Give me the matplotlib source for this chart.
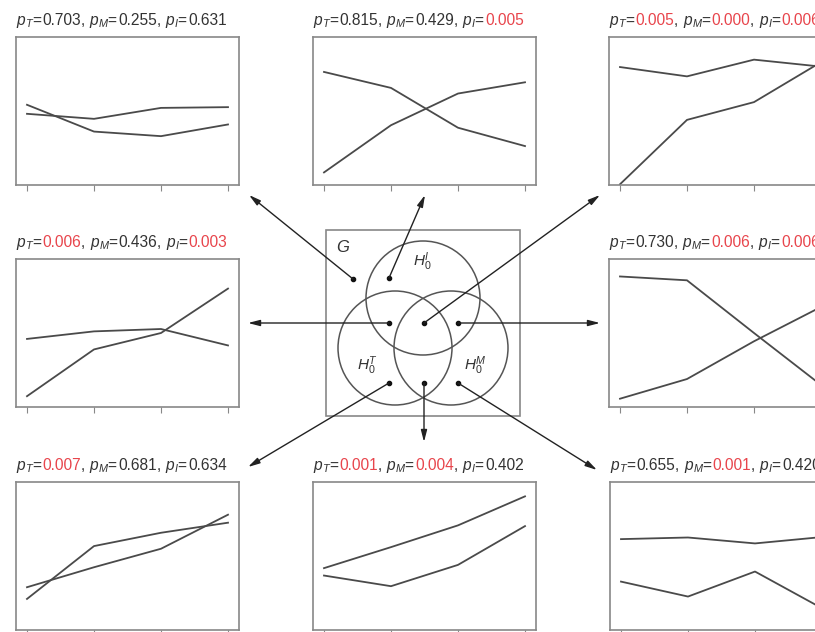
import matplotlib
matplotlib.use("Agg")
import matplotlib.pyplot as plt
from matplotlib.patches import Circle, Rectangle
from matplotlib.offsetbox import TextArea, HPacker, AnchoredOffsetbox

plt.rcParams['font.family'] = 'Liberation Sans'
plt.rcParams['mathtext.fontset'] = 'custom'
plt.rcParams['mathtext.rm'] = 'Liberation Sans'
plt.rcParams['mathtext.it'] = 'Liberation Sans:italic'
plt.rcParams['mathtext.bf'] = 'Liberation Sans:bold'

W, H = 815, 632

# four time points per profile
x_pts = [1, 2, 3, 4]

# p-values (T, M, I) for each hypothesis region
p_values = [
    (0.703, 0.255, 0.631),   # G only
    (0.815, 0.429, 0.005),   # I only
    (0.005, 0.000, 0.006),   # T, M and I
    (0.006, 0.436, 0.003),   # T and I
    (0.730, 0.006, 0.006),   # M and I
    (0.007, 0.681, 0.634),   # T only
    (0.001, 0.004, 0.402),   # T and M
    (0.655, 0.001, 0.420),   # M only
]

# expression profiles, two groups per panel
group_a = [
    [4.81, 4.47, 5.21, 5.26],
    [7.64, 6.56, 3.87, 2.63],
    [7.97, 7.34, 8.47, 8.00],
    [4.60, 5.11, 5.27, 4.16],
    [8.82, 8.56, 5.00, 1.49],
    [2.10, 5.67, 6.57, 7.25],
    [4.18, 5.60, 7.07, 9.03],
    [6.14, 6.25, 5.85, 6.28],
]
group_b = [
    [5.42, 3.61, 3.30, 4.09],
    [0.85, 4.04, 6.18, 6.94],
    [0.05, 4.40, 5.60, 8.30],
    [0.73, 3.89, 5.00, 8.00],
    [0.56, 1.89, 4.44, 6.76],
    [2.89, 4.24, 5.49, 7.79],
    [3.68, 2.96, 4.40, 7.02],
    [3.27, 2.26, 3.95, 1.47],
]

# panel boxes in pixels (left, top)
panel_pos = [(16, 37), (313, 37), (609, 37),
             (16, 259), (609, 259),
             (16, 482), (313, 482), (610, 482)]
PW, PH = 223, 148

# venn dots and where their arrows end
dots = [(353, 279), (389, 278), (424, 323), (389, 323),
        (458, 323), (389, 383), (424, 383), (458, 383)]
arrow_ends = [(249, 195), (425, 195), (600, 195), (248, 323),
              (600, 323), (248, 467), (424, 442), (597, 470)]

GRAY = '#888888'
LINE = '#4a4a4a'
RED = '#e8454c'
TXT = '#333333'
FS = 11.2

fig = plt.figure(figsize=(W / 100, H / 100), dpi=100)

# overlay in pixel coordinates for the venn diagram and arrows
ov = fig.add_axes([0, 0, 1, 1])
ov.set_xlim(0, W)
ov.set_ylim(H, 0)
ov.axis('off')
ov.patch.set_alpha(0)

ov.add_patch(Rectangle((326, 230), 194, 186, fill=False, ec=GRAY, lw=1.2))
for cx, cy in [(423, 298), (395, 348), (451, 348)]:
    ov.add_patch(Circle((cx, cy), 57, fill=False, ec='#555555', lw=1.1))

ov.text(343, 247, '$G$', fontsize=12, color=TXT, ha='center', va='center')
ov.text(422, 262, '$H_0^I$', fontsize=11, color=TXT, ha='center', va='center')
ov.text(368, 366, '$H_0^T$', fontsize=11, color=TXT, ha='center', va='center')
ov.text(475, 366, '$H_0^M$', fontsize=11, color=TXT, ha='center', va='center')

for (x0, y0), (x1, y1) in zip(dots, arrow_ends):
    ov.annotate('', xy=(x1, y1), xytext=(x0, y0),
                arrowprops=dict(arrowstyle='-|>,head_length=0.7,head_width=0.18',
                                color='#222222', lw=1.0, mutation_scale=10,
                                shrinkA=0, shrinkB=0))
    ov.plot(x0, y0, 'o', ms=3, color='#111111')


def title_box(ax, pv):
    parts = []
    for i, (name, val) in enumerate(zip(['T', 'M', 'I'], pv)):
        parts.append(TextArea(f'$p_{name}$=', textprops=dict(color=TXT, fontsize=FS)))
        parts.append(TextArea(f'{val:.3f}', textprops=dict(
            color=RED if val < 0.05 else TXT, fontsize=FS)))
        if i < 2:
            parts.append(TextArea(', ', textprops=dict(color=TXT, fontsize=FS)))
    box = HPacker(children=parts, align='baseline', pad=0, sep=0)
    anchored = AnchoredOffsetbox(loc='lower left', child=box, pad=0, borderpad=0,
                                 frameon=False, bbox_to_anchor=(0, 1.05),
                                 bbox_transform=ax.transAxes)
    ax.add_artist(anchored)


for k, (px, py) in enumerate(panel_pos):
    ax = fig.add_axes([px / W, 1 - (py + PH) / H, PW / W, PH / H])
    ax.plot(x_pts, group_a[k], color=LINE, lw=1.3)
    ax.plot(x_pts, group_b[k], color=LINE, lw=1.3)
    ax.set_xlim(1 - 11 / 67, 4 + 11 / 67)
    ax.set_ylim(0, 10)
    ax.set_xticks(x_pts)
    ax.set_xticklabels([])
    ax.set_yticks([])
    ax.tick_params(axis='x', length=4, width=0.8, color=GRAY, direction='out')
    for sp in ax.spines.values():
        sp.set_color(GRAY)
        sp.set_linewidth(1.2)
    title_box(ax, p_values[k])

fig.savefig('out.png', dpi=100)
